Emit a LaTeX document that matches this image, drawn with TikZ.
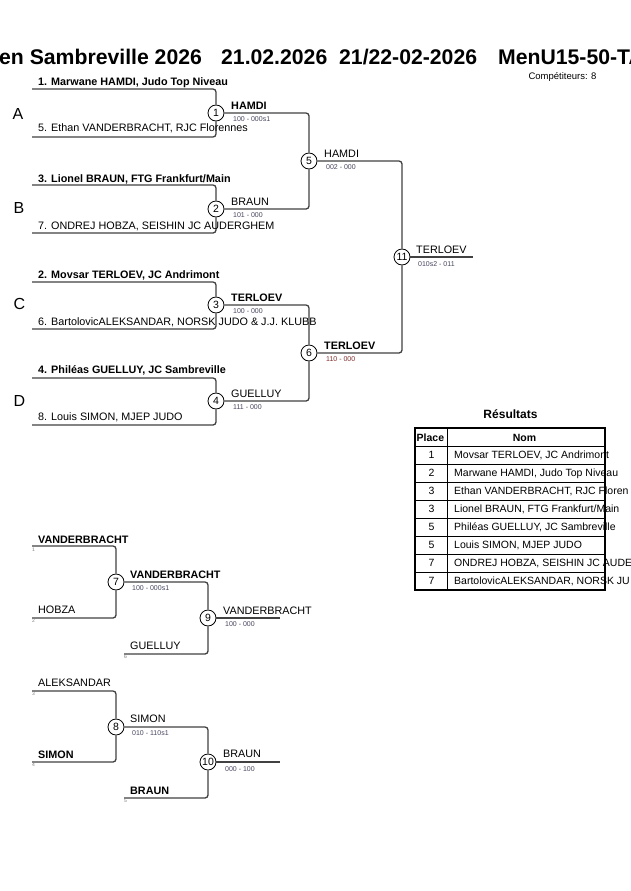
\documentclass[tikz,border=0pt]{standalone}
\usepackage{fontspec}
\setmainfont{Liberation Sans}
\definecolor{brc}{RGB}{65,65,65}
\definecolor{scc}{RGB}{70,70,95}
\definecolor{scr}{RGB}{130,45,45}
\begin{document}
\begin{tikzpicture}[x=1pt,y=-1pt,
  br/.style={draw=brc, line width=1.3pt, rounded corners=3pt},
  mc/.style={circle, draw=black, line width=0.8pt, fill=white, minimum size=16pt, inner sep=0pt, font=\fontsize{10.5}{10}\selectfont},
  nm/.style={anchor=base west, inner sep=0pt, font=\fontsize{10.8}{12}\selectfont},
  nb/.style={anchor=base west, inner sep=0pt, font=\fontsize{10.8}{12}\selectfont\bfseries},
  sc/.style={anchor=base west, inner sep=0pt, font=\fontsize{7}{8}\selectfont, text=scc},
  pl/.style={anchor=base west, inner sep=0pt, font=\fontsize{16}{16}\selectfont},
  sd/.style={anchor=base west, inner sep=0pt, font=\fontsize{5}{5}\selectfont, text=gray},
  tl/.style={anchor=base west, inner sep=0pt, font=\fontsize{21.2}{24}\selectfont\bfseries},
  tb/.style={draw=black, line width=0.8pt},
  tn/.style={anchor=base west, inner sep=0pt, font=\fontsize{10.5}{12}\selectfont},
  tp/.style={anchor=base, inner sep=0pt, font=\fontsize{10.5}{12}\selectfont}
]
\useasboundingbox (0,0) rectangle (630,891);
\fill[white] (0,0) rectangle (630,891);

% ---------- title ----------
\node[tl] (t1) at (-1,65) {en Sambreville 2026};
\node[tl] (t2) at (221,65) {21.02.2026};
\node[tl] (t3) at (339,65) {21/22-02-2026};
\node[tl] (t4) at (498,65) {MenU15-50-TA};
\node[anchor=base, inner sep=0pt, font=\fontsize{9.5}{10}\selectfont] (comp) at (562.5,79) {Compétiteurs: 8};

% ---------- main bracket ----------
\node[mc] (m1) at (216,113) {1};
\node[mc] (m2) at (216,209) {2};
\node[mc] (m3) at (216,305) {3};
\node[mc] (m4) at (216,401) {4};
\node[mc] (m5) at (309,161) {5};
\node[mc] (m6) at (309,353) {6};
\node[mc] (m11) at (402,257) {11};
\coordinate (e11) at (473,257);

\coordinate (s1) at (32,89);
\coordinate (s5) at (32,137);
\coordinate (s3) at (32,185);
\coordinate (s7) at (32,233);
\coordinate (s2) at (32,282);
\coordinate (s6) at (32,329);
\coordinate (s4) at (32,378);
\coordinate (s8) at (32,425);

\draw[br] (s1) -| (m1);
\draw[br] (s5) -| (m1);
\draw[br] (s3) -| (m2);
\draw[br] (s7) -| (m2);
\draw[br] (s2) -| (m3);
\draw[br] (s6) -| (m3);
\draw[br] (s4) -| (m4);
\draw[br] (s8) -| (m4);
\draw[br] (m1) -| (m5);
\draw[br] (m2) -| (m5);
\draw[br] (m3) -| (m6);
\draw[br] (m4) -| (m6);
\draw[br] (m5) -| (m11);
\draw[br] (m6) -| (m11);
\draw[br] (m11) -- (e11);

\node[pl] (pA) at (12.5,119.3) {A};
\node[pl] (pB) at (13.5,213.3) {B};
\node[pl] (pC) at (13.5,309.3) {C};
\node[pl] (pD) at (13.5,406.7) {D};

\node[nb] (n1) at (38,85.7) {1. Marwane HAMDI, Judo Top Niveau};
\node[nm] (n5) at (38,131.7) {5. Ethan VANDERBRACHT, RJC Florennes};
\node[nb] (n3) at (38,182) {3. Lionel BRAUN, FTG Frankfurt/Main};
\node[nm] (n7) at (38,229) {7. ONDREJ HOBZA, SEISHIN JC AUDERGHEM};
\node[nb] (n2) at (38,278) {2. Movsar TERLOEV, JC Andrimont};
\node[nm] (n6) at (38,325) {6. BartolovicALEKSANDAR, NORSK JUDO \& J.J. KLUBB};
\node[nb] (n4) at (38,373.3) {4. Philéas GUELLUY, JC Sambreville};
\node[nm] (n8) at (38,420.7) {8. Louis SIMON, MJEP JUDO};

\node[nb] (w1) at (231,109.5) {HAMDI};
\node[sc] (c1) at (233,121.5) {100 - 000s1};
\node[nm] (w2) at (231,205.5) {BRAUN};
\node[sc] (c2) at (233,217.5) {101 - 000};
\node[nb] (w3) at (231,301.5) {TERLOEV};
\node[sc] (c3) at (233,313.5) {100 - 000};
\node[nm] (w4) at (231,397.5) {GUELLUY};
\node[sc] (c4) at (233,409.5) {111 - 000};
\node[nm] (w5) at (324,157) {HAMDI};
\node[sc] (c5) at (326,169.5) {002 - 000};
\node[nb] (w6) at (324,349) {TERLOEV};
\node[sc, text=scr] (c6) at (326,361.5) {110 - 000};
\node[nm] (w11) at (416,253) {TERLOEV};
\node[sc] (c11) at (418,266) {010s2 - 011};

% ---------- results table ----------
\node[anchor=base, inner sep=0pt, font=\fontsize{12}{14}\selectfont\bfseries] (rt) at (510.5,418) {Résultats};
\foreach \i in {1,...,7} { \draw[tb] (415,446+18*\i) -- (605,446+18*\i); }
\draw[tb] (415,446) -- (605,446);
\draw[tb] (447.7,428.3) -- (447.7,590);
\draw[draw=black, line width=1.8pt] (415,428.3) rectangle (605,590);
\node[anchor=base west, inner sep=0pt, font=\fontsize{10.5}{12}\selectfont\bfseries] (hp) at (416.5,441.5) {Place};
\node[anchor=base, inner sep=0pt, font=\fontsize{10.5}{12}\selectfont\bfseries] (hn) at (524.5,441.5) {Nom};
\node[tp] (p1) at (431.5,458.5) {1};
\node[tp] (p2) at (431.5,476.5) {2};
\node[tp] (p3) at (431.5,494.5) {3};
\node[tp] (p4) at (431.5,512.5) {3};
\node[tp] (p5) at (431.5,530.5) {5};
\node[tp] (p6) at (431.5,548.5) {5};
\node[tp] (p7) at (431.5,566.5) {7};
\node[tp] (p8) at (431.5,584.5) {7};
\node[tn] (r1) at (454,458.5) {Movsar TERLOEV, JC Andrimont};
\node[tn] (r2) at (454,476.5) {Marwane HAMDI, Judo Top Niveau};
\node[tn] (r3) at (454,494.5) {Ethan VANDERBRACHT, RJC Floren};
\node[tn] (r4) at (454,512.5) {Lionel BRAUN, FTG Frankfurt/Main};
\node[tn] (r5) at (454,530.5) {Philéas GUELLUY, JC Sambreville};
\node[tn] (r6) at (454,548.5) {Louis SIMON, MJEP JUDO};
\node[tn] (r7) at (454,566.5) {ONDREJ HOBZA, SEISHIN JC AUDE};
\node[tn] (r8) at (454,584.5) {BartolovicALEKSANDAR, NORSK JU};

% ---------- repechage 1 ----------
\node[mc] (q7) at (116,582) {7};
\node[mc] (q9) at (208,618) {9};
\coordinate (u1) at (32,546);
\coordinate (u2) at (32,618);
\coordinate (u6) at (124,654);
\coordinate (f9) at (280,618);
\draw[br] (u1) -| (q7);
\draw[br] (u2) -| (q7);
\draw[br] (q7) -| (q9);
\draw[br] (u6) -| (q9);
\draw[br] (q9) -- (f9);
\node[sd] (d1) at (32,551) {1};
\node[sd] (d2) at (32,622.5) {2};
\node[sd] (d6) at (124,658.5) {6};
\node[nb] (v1) at (38,543.3) {VANDERBRACHT};
\node[nm] (v2) at (38,613.5) {HOBZA};
\node[nb] (v7) at (130,578.3) {VANDERBRACHT};
\node[sc] (k7) at (132,590.7) {100 - 000s1};
\node[nm] (v6) at (130,649.5) {GUELLUY};
\node[nm] (v9) at (223,614) {VANDERBRACHT};
\node[sc] (k9) at (225,626.5) {100 - 000};

% ---------- repechage 2 ----------
\node[mc] (q8) at (116,727) {8};
\node[mc] (q10) at (208,762) {10};
\coordinate (u3) at (32,691);
\coordinate (u4) at (32,762);
\coordinate (u5) at (124,798);
\coordinate (f10) at (280,762);
\draw[br] (u3) -| (q8);
\draw[br] (u4) -| (q8);
\draw[br] (q8) -| (q10);
\draw[br] (u5) -| (q10);
\draw[br] (q10) -- (f10);
\node[sd] (d3) at (32,695.5) {3};
\node[sd] (d4) at (32,766.5) {4};
\node[sd] (d5) at (124,802.5) {5};
\node[nm] (v3) at (38,686.3) {ALEKSANDAR};
\node[nb] (v4) at (38,758.5) {SIMON};
\node[nm] (v8) at (130,722.7) {SIMON};
\node[sc] (k8) at (132,735.2) {010 - 110s1};
\node[nb] (v5) at (130,794.5) {BRAUN};
\node[nm] (v10) at (223,757.5) {BRAUN};
\node[sc] (k10) at (225,771) {000 - 100};
\end{tikzpicture}
\end{document}
